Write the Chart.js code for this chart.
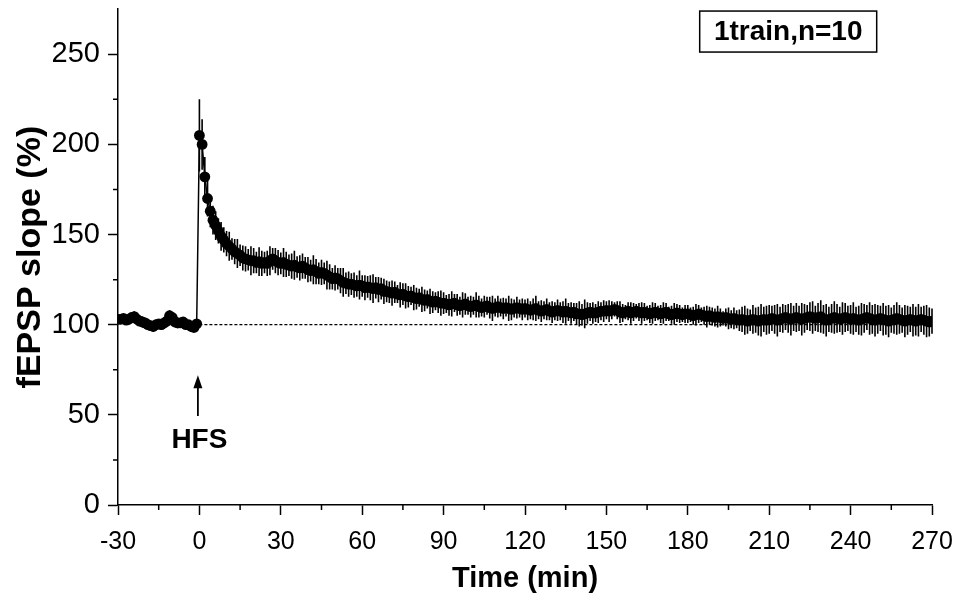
<!DOCTYPE html>
<html>
<head>
<meta charset="utf-8">
<script src="https://cdn.jsdelivr.net/npm/chart.js@4.4.1/dist/chart.umd.min.js"></script>
<style>
  html, body { margin: 0; padding: 0; background: #fff; }
  canvas { display: block; }
</style>
</head>
<body>
<canvas id="ltp" width="954" height="598"></canvas>
<script>
// baseline, one point per minute from -30 to -1 min
const baseStart = -30;
const baseMean = [103, 103, 103.5, 102.5, 103, 104, 104.5, 103, 102, 101.5,
                  101, 100, 99.5, 99, 100, 100.5, 100, 101, 102, 105,
                  104, 101.5, 101, 101, 101.5, 100, 100, 99, 98.5, 100.5];
const baseSem = [2, 2, 2, 2, 3, 2, 3, 2, 2, 3,
                 2, 3, 2, 3, 2, 2, 3, 2, 2, 3,
                 2, 2, 3, 2, 2, 3, 2, 3, 3, 2];

// after HFS, one point per minute from 0 to 270 min
const postStart = 0;
const postMean = [
  205, 200, 182, 170, 163, 158, 155, 152, 149, 147,
  145, 143.5, 142, 140.5, 139.5, 138.5, 137, 136.5, 136, 135.5,
  135.5, 134.5, 135, 134, 134.5, 134, 135.5, 136.5, 135.5, 134.5,
  134, 134.5, 133.5, 133, 132.5, 133, 132, 131.5, 132.5, 131.5,
  130.5, 130, 130.5, 129.5, 128.5, 129, 128.5, 127.5, 126.5, 125.5,
  126, 125.5, 124.5, 123.5, 123, 122.5, 122.5, 122, 121.5, 122,
  121.5, 120.5, 121, 120.5, 120, 120.5, 119.5, 120, 118.5, 118.5,
  118, 117.5, 118, 117, 116.5, 117, 116, 115.5, 116, 115,
  114.5, 115, 114, 113.5, 114, 113, 112.5, 113, 112.5, 112,
  112, 111.5, 111, 111.5, 112, 111, 110.5, 111, 111.5, 110.5,
  110, 110.5, 111, 110, 109.5, 110, 110.5, 109.5, 109, 109.5,
  110, 109.5, 109, 109.5, 109, 108.5, 109, 109.5, 109, 108.5,
  109, 108.5, 108, 108.5, 109, 108, 107.5, 108, 108.5, 107.5,
  107, 107.5, 108, 107.5, 107, 107.5, 107, 106.5, 107, 106,
  106, 105.5, 106, 106.5, 107, 106.5, 106.5, 107, 107.5, 107.5,
  108, 107.5, 108, 108.5, 108, 107, 106.5, 107, 107.5, 106.5,
  107, 107.5, 107, 106.5, 107, 106.5, 106, 106.5, 107, 106.5,
  106, 106.5, 107, 106, 105.5, 106, 106.5, 106, 105.5, 106,
  106, 105.5, 105, 105.5, 106, 105.5, 105, 104.5, 105, 104.5,
  104, 104.5, 104, 103.5, 104, 103.5, 103, 103.5, 103, 102.5,
  103, 102.5, 102, 102.5, 103, 102.5, 102, 102.5, 103, 102.5,
  103, 103.5, 103, 102.5, 103, 103.5, 104, 103.5, 103, 103.5,
  104, 103.5, 103, 103.5, 104, 104.5, 104, 103.5, 104, 104.5,
  103, 102.5, 103, 103.5, 104, 103.5, 103, 103.5, 104, 103.5,
  103, 103.5, 103, 102.5, 103, 103.5, 104, 103.5, 103, 102.5,
  103, 103.5, 103, 102.5, 102, 102.5, 103, 103.5, 103, 102.5,
  102, 102.5, 103, 102.5, 102, 102.5, 103, 102.5, 102, 101.5,
  102];
const postSem = [
  20, 14, 11, 10, 9, 8, 8, 7, 8, 7,
  7, 8, 6, 7, 8, 6, 7, 7, 6, 8,
  7, 6, 8, 7, 6, 7, 8, 6, 7, 7,
  6, 8, 7, 6, 7, 8, 6, 7, 7, 6,
  7, 6, 8, 7, 6, 7, 6, 8, 7, 6,
  7, 6, 7, 8, 6, 7, 6, 7, 6, 8,
  6, 7, 6, 7, 8, 6, 7, 6, 7, 6,
  6, 7, 6, 5, 7, 6, 7, 6, 5, 7,
  6, 5, 7, 6, 5, 7, 6, 5, 6, 7,
  6, 5, 6, 7, 5, 6, 5, 7, 6, 5,
  6, 5, 7, 6, 5, 6, 5, 6, 7, 5,
  6, 5, 6, 5, 7, 6, 5, 6, 5, 6,
  5, 6, 5, 6, 7, 5, 6, 5, 6, 5,
  6, 5, 6, 5, 6, 7, 5, 6, 5, 6,
  7, 6, 8, 6, 5, 6, 5, 6, 5, 6,
  5, 6, 5, 4, 5, 6, 5, 4, 5, 6,
  5, 4, 5, 6, 5, 4, 5, 6, 5, 4,
  5, 6, 5, 4, 5, 6, 5, 5, 4, 5,
  5, 4, 5, 6, 5, 4, 5, 6, 5, 5,
  5, 6, 5, 4, 5, 6, 5, 6, 5, 6,
  7, 8, 7, 6, 8, 7, 8, 9, 7, 8,
  8, 7, 8, 9, 7, 8, 7, 8, 9, 7,
  8, 7, 9, 8, 7, 8, 9, 7, 8, 9,
  8, 9, 7, 8, 9, 8, 7, 9, 8, 7,
  8, 9, 7, 8, 9, 8, 7, 9, 8, 9,
  8, 7, 9, 8, 9, 7, 8, 9, 8, 7,
  9, 8, 7, 9, 8, 9, 7, 8, 9, 8,
  7];

const refLine = [{x: 0, y: 100}, {x: 270, y: 100}];

const xMajor = [-30, 0, 30, 60, 90, 120, 150, 180, 210, 240, 270];
const xMinor = [-15, 15, 45, 75, 105, 135, 165, 195, 225, 255];
const yMajor = [0, 50, 100, 150, 200, 250];
const yMinor = [25, 75, 125, 175, 225];

const boxText = '1train,n=10';
const hfsText = 'HFS';

const FONT = '"Liberation Sans", Arial, Helvetica, sans-serif';

var points = [];
baseMean.forEach(function (v, i) { points.push({x: baseStart + i, y: v, e: baseSem[i]}); });
postMean.forEach(function (v, i) { points.push({x: postStart + i, y: v, e: postSem[i]}); });

function noPad(s) {
    s.paddingTop = 0; s.paddingBottom = 0; s.paddingLeft = 0; s.paddingRight = 0;
}

const errorBars = {
    id: 'errorBars',
    beforeDatasetsDraw(chart) {
        const ctx = chart.ctx, xs = chart.scales.x, ys = chart.scales.y;
        ctx.save();
        ctx.strokeStyle = '#000';
        ctx.lineWidth = 1.6;
        ctx.beginPath();
        points.forEach(function (p) {
            const px = xs.getPixelForValue(p.x);
            ctx.moveTo(px, ys.getPixelForValue(p.y - p.e));
            ctx.lineTo(px, ys.getPixelForValue(p.y + p.e));
        });
        ctx.stroke();
        ctx.restore();
    }
};

const decorations = {
    id: 'decorations',
    afterDraw(chart) {
        const ctx = chart.ctx, xs = chart.scales.x, ys = chart.scales.y;
        ctx.save();
        ctx.strokeStyle = '#000';
        ctx.fillStyle = '#000';
        ctx.lineWidth = 1.5;

        // minor ticks
        ctx.beginPath();
        xMinor.forEach(function (v) {
            const px = xs.getPixelForValue(v);
            ctx.moveTo(px, ys.bottom);
            ctx.lineTo(px, ys.bottom + 5);
        });
        yMinor.forEach(function (v) {
            const py = ys.getPixelForValue(v);
            ctx.moveTo(xs.left, py);
            ctx.lineTo(xs.left - 5, py);
        });
        ctx.stroke();

        // HFS arrow
        const ax = xs.getPixelForValue(0) - 1.5;
        const aTop = ys.getPixelForValue(72);
        const aBot = ys.getPixelForValue(49.4);
        ctx.lineWidth = 1.8;
        ctx.beginPath();
        ctx.moveTo(ax, aBot);
        ctx.lineTo(ax, aTop + 8);
        ctx.stroke();
        ctx.beginPath();
        ctx.moveTo(ax, aTop);
        ctx.lineTo(ax - 4.5, aTop + 13);
        ctx.lineTo(ax + 4.5, aTop + 13);
        ctx.closePath();
        ctx.fill();

        ctx.font = 'bold 28px ' + FONT;
        ctx.textAlign = 'center';
        ctx.textBaseline = 'middle';
        ctx.fillText(hfsText, xs.getPixelForValue(0), ys.getPixelForValue(36));

        // label box
        const bx = xs.getPixelForValue(217), by = ys.getPixelForValue(262.6);
        ctx.lineWidth = 1.5;
        ctx.strokeRect(bx - 88.5, by - 20.5, 177, 41);
        ctx.font = 'bold 28px ' + FONT;
        ctx.fillText(boxText, bx, by + 1);
        ctx.restore();
    }
};

new Chart(document.getElementById('ltp'), {
    type: 'line',
    data: {
        datasets: [{
            data: points,
            borderColor: '#000',
            borderWidth: 1.5,
            pointRadius: 5.4,
            pointBackgroundColor: '#000',
            pointBorderColor: '#000',
            pointBorderWidth: 0,
            tension: 0,
            order: 1
        }, {
            data: refLine,
            borderColor: '#000',
            borderWidth: 1.2,
            borderDash: [3, 2],
            pointRadius: 0,
            order: 2
        }]
    },
    options: {
        responsive: false,
        animation: false,
        devicePixelRatio: 1,
        layout: { padding: { top: 9.2, right: 22, left: 0, bottom: 0 } },
        plugins: { legend: { display: false }, tooltip: { enabled: false } },
        scales: {
            x: {
                type: 'linear',
                min: -30,
                max: 270,
                afterBuildTicks: function (s) {
                    s.ticks = xMajor.concat(xMinor).sort(function (a, b) { return a - b; })
                        .map(function (v) { return {value: v}; });
                },
                afterFit: function (s) { s.height = 93; noPad(s); },
                grid: {
                    drawOnChartArea: false,
                    tickLength: 10,
                    tickWidth: 1.5,
                    tickColor: function (c) { return xMajor.includes(c.tick.value) ? '#000' : 'rgba(0,0,0,0)'; }
                },
                border: { color: '#000', width: 1.5 },
                ticks: {
                    autoSkip: false,
                    maxRotation: 0,
                    padding: 12,
                    color: '#000',
                    font: { family: FONT, size: 25 },
                    callback: function (v) { return xMajor.includes(v) ? String(v) : ''; }
                },
                title: {
                    display: true,
                    text: 'Time (min)',
                    color: '#000',
                    font: { family: FONT, size: 29, weight: 'bold' },
                    padding: { top: 0, bottom: 2 }
                }
            },
            y: {
                min: 0,
                max: 275,
                afterBuildTicks: function (s) {
                    s.ticks = yMajor.concat(yMinor).sort(function (a, b) { return a - b; })
                        .map(function (v) { return {value: v}; });
                },
                afterFit: function (s) { s.width = 118; noPad(s); },
                grid: {
                    drawOnChartArea: false,
                    tickLength: 10,
                    tickWidth: 1.5,
                    tickColor: function (c) { return yMajor.includes(c.tick.value) ? '#000' : 'rgba(0,0,0,0)'; }
                },
                border: { color: '#000', width: 1.5 },
                ticks: {
                    autoSkip: false,
                    padding: 8,
                    color: '#000',
                    font: { family: FONT, size: 29 },
                    callback: function (v) { return yMajor.includes(v) ? String(v) : ''; }
                },
                title: {
                    display: true,
                    text: 'fEPSP slope (%)',
                    color: '#000',
                    font: { family: FONT, size: 34, weight: 'bold' },
                    padding: { top: 10, bottom: 0 }
                }
            }
        }
    },
    plugins: [errorBars, decorations]
});
</script>
</body>
</html>
